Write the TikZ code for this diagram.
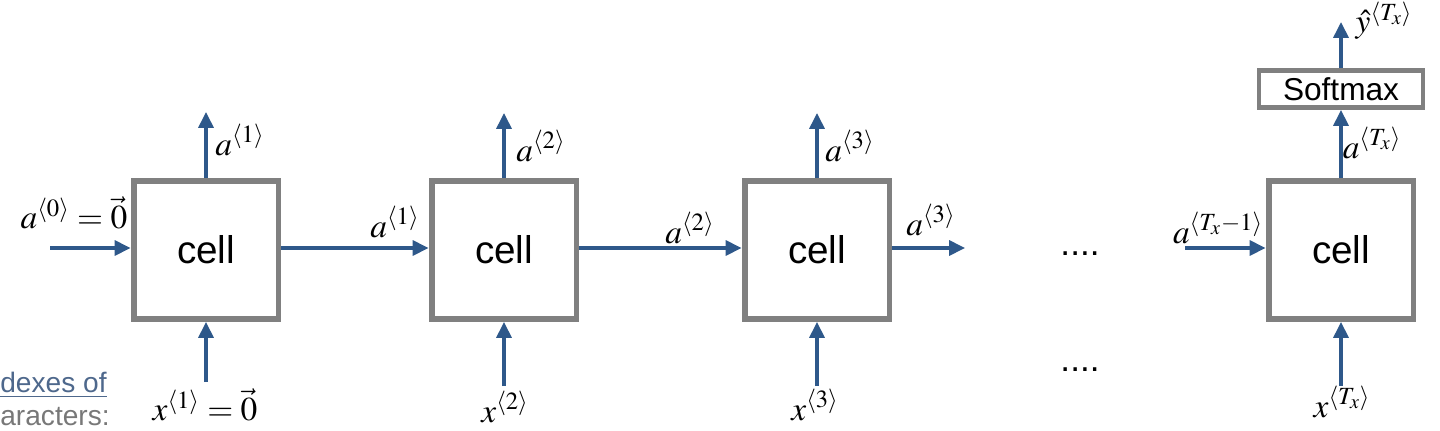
\documentclass[tikz,border=0pt]{standalone}
\usepackage{mathptmx}
\usepackage{fontspec}
\newfontfamily\cellfont{Liberation Sans}
\usetikzlibrary{positioning,arrows.meta}

\definecolor{arrowblue}{RGB}{46,88,138}
\definecolor{boxgray}{RGB}{128,128,128}
\definecolor{linkblue}{RGB}{78,104,140}
\definecolor{notegray}{RGB}{120,120,120}

\tikzset{
  cellbox/.style={draw=boxgray,
                  line width=3.4pt,
                  minimum width=2.9cm,
                  minimum height=2.76cm,
                  font=\cellfont\fontsize{22}{24}\selectfont},
  softbox/.style={draw=boxgray,
                  line width=2.8pt,
                  minimum width=3.28cm,
                  minimum height=0.74cm,
                  inner sep=0pt,
                  font=\cellfont\fontsize{18}{20}\selectfont},
  flow/.style={draw=arrowblue,
               line width=1.9pt,
               -{Triangle[length=9pt,width=8.5pt]}},
  lbl/.style={inner sep=0pt,
              font=\fontsize{19}{21}\selectfont},
  dots/.style={inner sep=0pt,
               font=\cellfont\fontsize{20}{22}\selectfont}
}

\begin{document}
\begin{tikzpicture}[x=0.02cm,y=-0.02cm]
    \useasboundingbox (0,0) rectangle (1440,430);
%   cells
    \node[cellbox] (cell1) at (206,250) {cell};
    \node[cellbox] (cell2) at (504,250) {cell};
    \node[cellbox] (cell3) at (817,250) {cell};
    \node[cellbox] (cell4) at (1341,250) {cell};
    \node[softbox] (softmax) at (1341,89) {Softmax};
%   free ends
    \coordinate (ain0) at (50,248);
    \coordinate (aout3) at (965,248);
    \coordinate (ainT) at (1185,248);
    \coordinate (top1) at (206,112);
    \coordinate (top2) at (504,113);
    \coordinate (top3) at (817,113);
    \coordinate (topy) at (1341,22);
    \coordinate (bot1) at (206,382);
    \coordinate (bot2) at (504,386);
    \coordinate (bot3) at (817,386);
    \coordinate (bot4) at (1341,386);
%   horizontal flow
    \draw[flow] (ain0) -- (cell1.west |- ain0);
    \draw[flow] (cell1.east |- ain0) -- (cell2.west |- ain0);
    \draw[flow] (cell2.east |- ain0) -- (cell3.west |- ain0);
    \draw[flow] (cell3.east |- ain0) -- (aout3);
    \draw[flow] (ainT) -- (cell4.west |- ainT);
%   vertical flow
    \draw[flow] (cell1.north) -- (top1);
    \draw[flow] (cell2.north) -- (top2);
    \draw[flow] (cell3.north) -- (top3);
    \draw[flow] (cell4.north) -- (softmax.south);
    \draw[flow] (softmax.north) -- (topy);
    \draw[flow] (bot1) -- (cell1.south);
    \draw[flow] (bot2) -- (cell2.south);
    \draw[flow] (bot3) -- (cell3.south);
    \draw[flow] (bot4) -- (cell4.south);
%   labels
    \node[lbl] (lup1) at (240,140) {$a^{\langle 1\rangle}$};
    \node[lbl] (lup2) at (541,146) {$a^{\langle 2\rangle}$};
    \node[lbl] (lup3) at (850,146) {$a^{\langle 3\rangle}$};
    \node[lbl] (lupT) at (1372,143) {$a^{\langle T_x\rangle}$};
    \node[lbl] (lyhat) at (1384,21) {$\hat{y}^{\langle T_x\rangle}$};
    \node[lbl] (lin0) at (74,213) {$a^{\langle 0\rangle}=\vec{0}$};
    \node[lbl] (lin1) at (395,222) {$a^{\langle 1\rangle}$};
    \node[lbl] (lin2) at (690,228) {$a^{\langle 2\rangle}$};
    \node[lbl] (lout3) at (931,220) {$a^{\langle 3\rangle}$};
    \node[lbl] (linT) at (1218,228) {$a^{\langle T_x-1\rangle}$};
    \node[lbl] (lx1) at (205,405) {$x^{\langle 1\rangle}=\vec{0}$};
    \node[lbl] (lx2) at (505,407) {$x^{\langle 2\rangle}$};
    \node[lbl] (lx3) at (815,405) {$x^{\langle 3\rangle}$};
    \node[lbl] (lxT) at (1342,402) {$x^{\langle T_x\rangle}$};
%   dots and cut-off note
    \node[dots] (dotsa) at (1080,254) {....};
    \node[dots] (dotsx) at (1080,370) {....};
    \node[anchor=west, inner sep=0pt, text=linkblue,
          font=\cellfont\fontsize{16}{18}\selectfont] (note1) at (0,385) {\underline{dexes of}};
    \node[anchor=west, inner sep=0pt, text=notegray,
          font=\cellfont\fontsize{16}{18}\selectfont] (note2) at (0,417) {aracters:};
\end{tikzpicture}
\end{document}
